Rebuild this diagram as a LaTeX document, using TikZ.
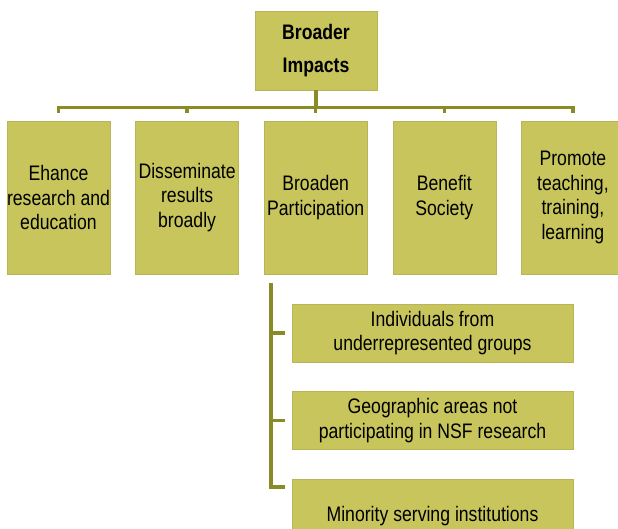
\documentclass[tikz,border=0pt]{standalone}
\usepackage{fontspec}
\setmainfont{Liberation Sans}[FakeStretch=0.84]
\usepackage{tikz}
\usetikzlibrary{positioning,calc}
\definecolor{biolive}{RGB}{199,197,92}
\definecolor{bidark}{RGB}{138,138,38}

\tikzset{
  impact/.style={rectangle, fill=biolive, draw=biolive!92!black, line width=0.6pt, align=center, inner sep=0pt, font=\fontsize{21}{24.5}\selectfont},
  area/.style={impact, minimum width=103pt, minimum height=153pt},
  group/.style={impact, minimum width=281pt, minimum height=58pt},
  branch/.style={draw=bidark, line width=3.5pt},
}

\begin{document}
\begin{tikzpicture}[x=1pt, y=-1pt, node distance=25pt]
    \useasboundingbox (0,0) rectangle (618,529);

    \node[impact, minimum width=122pt, minimum height=79pt, font=\fontsize{21}{33}\selectfont\bfseries] (top) at (316,50.5) {Broader\\Impacts};

    % second level
    \node[area] (enh) at (58.5,197.5) {Ehance\\research and\\education};
    \node[area, right=of enh] (dis) {Disseminate\\results\\broadly};
    \node[area, right=of dis] (part) {Broaden\\Participation};
    \node[area, right=of part] (soc) {Benefit\\Society};
    \node[area, right=of soc] (teach) {Promote\\teaching,\\training,\\learning};

    % groups under Broaden Participation
    \node[group] (indiv) at (432.5,333) {Individuals from\\underrepresented groups};
    \node[group, below=29pt of indiv] (geo) {Geographic areas not\\participating in NSF research};
    \node[group, below=29pt of geo, minimum height=74pt] (msi) {Minority serving institutions};

    \coordinate (bar) at ($(top.south)+(0,-17pt)$);
    \coordinate (trunk) at ($(part.south west)+(7pt,-9pt)$);

    \draw[branch] (top) -- (bar);
    \draw[branch] ([yshift=8pt]enh.north) |- (bar) -| ([yshift=8pt]teach.north);
    \foreach \n in {dis,part,soc}
        \draw[branch] (bar -| \n.north) -- ([yshift=8pt]\n.north);

    \draw[branch] (trunk) |- ([xshift=-7pt,yshift=-8pt]msi.north west);
    \foreach \n in {indiv,geo}
        \draw[branch] (trunk |- \n.west) -- ([xshift=-7pt]\n.west);
\end{tikzpicture}
\end{document}
